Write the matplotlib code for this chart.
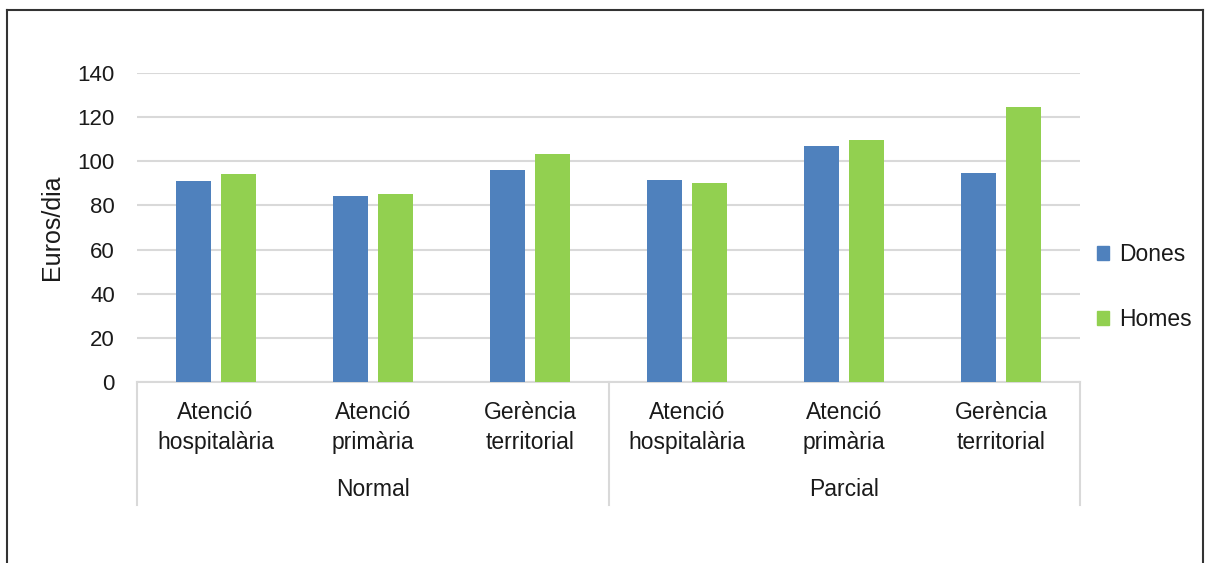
import matplotlib

matplotlib.use("Agg")
import matplotlib.pyplot as plt
import numpy as np
from matplotlib.lines import Line2D
from matplotlib.patches import Patch
from matplotlib.transforms import blended_transform_factory

plt.rcParams["font.family"] = ["Liberation Sans", "DejaVu Sans"]

categories = [
    "Atenció\nhospitalària", "Atenció\nprimària", "Gerència\nterritorial",
    "Atenció\nhospitalària", "Atenció\nprimària", "Gerència\nterritorial",
]
groups = ["Normal", "Parcial"]
dones = [91.1, 84.3, 96.1, 91.5, 106.9, 94.7]
homes = [94.2, 85.2, 103.3, 90.2, 109.6, 124.6]
yticks = [0, 20, 40, 60, 80, 100, 120, 140]

BLUE = "#4F81BD"
GREEN = "#92D050"
GRID = "#d9d9d9"
TXT = "#1a1a1a"

W, H = 1206, 563
fig = plt.figure(figsize=(W / 100, H / 100), dpi=100)
ax = fig.add_axes([137 / W, 1 - 382 / H, (1080 - 137) / W, (382 - 73) / H])

x = np.arange(len(categories))
bw = 0.223
ax.bar(x - 0.143, dones, width=bw, color=BLUE, zorder=3)
ax.bar(x + 0.143, homes, width=bw, color=GREEN, zorder=3)

ax.set_xlim(-0.5, len(categories) - 0.5)
ax.set_ylim(0, 140)
ax.set_yticks(yticks)
ax.yaxis.grid(True, color=GRID, linewidth=1.5, zorder=0)
ax.tick_params(axis="y", length=0, pad=16, labelsize=16, labelcolor=TXT)
ax.set_xticks(x)
ax.set_xticklabels(categories, fontsize=16.5, color=TXT, linespacing=1.38)
ax.tick_params(axis="x", length=0, pad=14)
for s in ["top", "right", "left"]:
    ax.spines[s].set_visible(False)
ax.spines["bottom"].set_color(GRID)
ax.spines["bottom"].set_linewidth(1.5)
fig.text(52 / W, 1 - 227 / H, "Euros/dia", rotation=90, ha="center", va="center",
         fontsize=18, color=TXT)

# group separators and group labels
tr = blended_transform_factory(ax.transData, ax.transAxes)
sep_bottom = -(505 - 382) / (382 - 73)
for xs in [-0.5, 2.5, 5.5]:
    ax.add_line(Line2D([xs, xs], [0, sep_bottom], transform=tr, color=GRID,
                       linewidth=1.5, clip_on=False))
lab_y = -(490 - 382) / (382 - 73)
for i, g in enumerate(groups):
    ax.text(1 + 3 * i, lab_y, g, transform=tr, ha="center", va="center",
            fontsize=16.5, color=TXT)

handles = [Patch(color=BLUE, label="Dones"), Patch(color=GREEN, label="Homes")]
fig.legend(handles=handles, loc="center left", bbox_to_anchor=(1076 / W, 1 - 287 / H),
           frameon=False, fontsize=16.5, handlelength=0.55, handleheight=0.55,
           handletextpad=0.45, labelspacing=1.85, labelcolor=TXT)

# outer frame (top, left, right)
fc = "#333333"
fig.add_artist(Line2D([7 / W, 1203 / W], [1 - 10 / H, 1 - 10 / H], color=fc, linewidth=1.5))
fig.add_artist(Line2D([7 / W, 7 / W], [0, 1 - 10 / H], color=fc, linewidth=1.5))
fig.add_artist(Line2D([1203 / W, 1203 / W], [0, 1 - 10 / H], color=fc, linewidth=1.5))

fig.savefig("out.png", dpi=100)
